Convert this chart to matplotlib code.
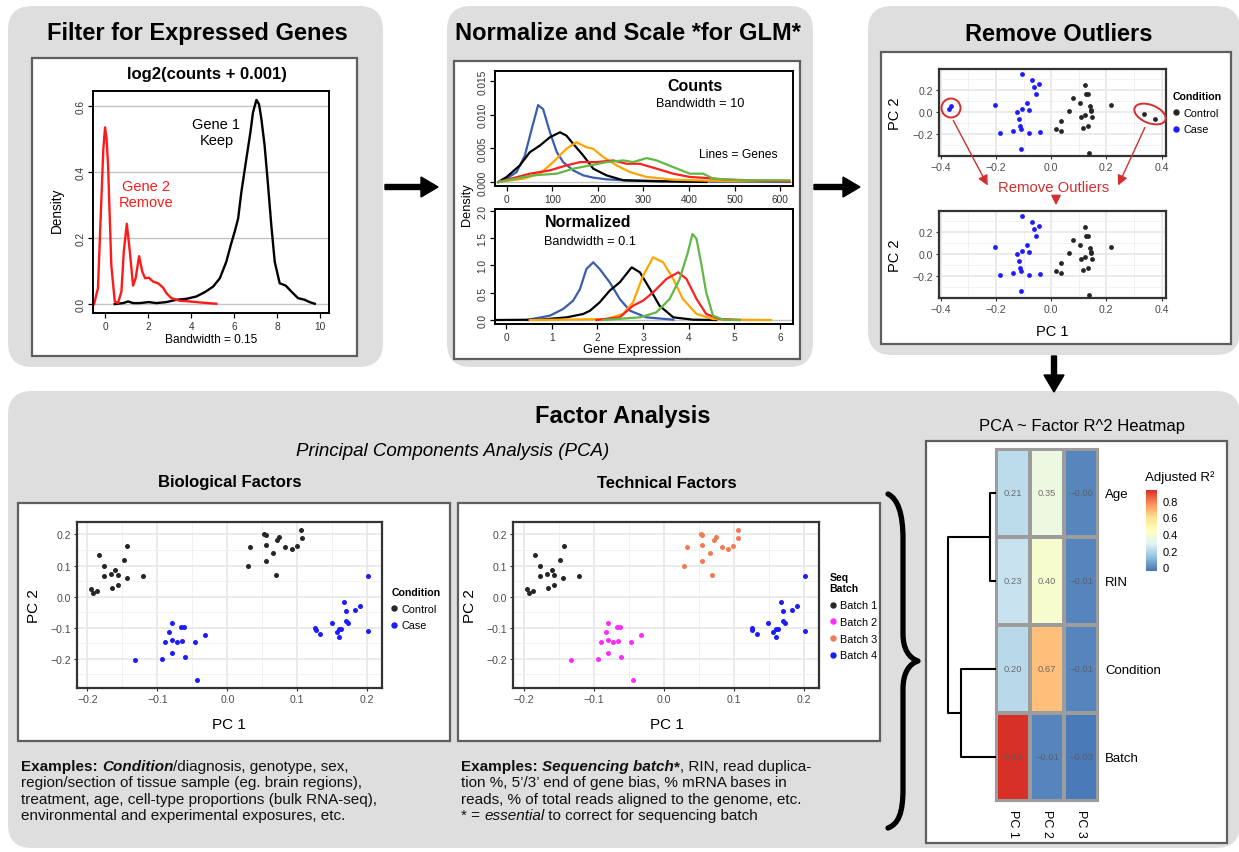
import matplotlib
matplotlib.use('Agg')
import numpy as np
import matplotlib.pyplot as plt
from matplotlib.patches import FancyBboxPatch, Rectangle, FancyArrow, Ellipse, FancyArrowPatch, PathPatch
from matplotlib.path import Path
from matplotlib.colors import LinearSegmentedColormap
from matplotlib.lines import Line2D

plt.rcParams['font.family'] = ['Liberation Sans', 'DejaVu Sans']

W, H = 1239, 853
PANEL = '#dedede'
RED = '#d32f2f'

# ------------------------------------------------------------
# Datos: curvas de densidad
# ------------------------------------------------------------
gene2_x = [-0.51, -0.33, -0.17, -0.08, 0.0, 0.07, 0.14, 0.29, 0.45, 0.60, 0.76, 0.87, 1.01,
           1.15, 1.30, 1.42, 1.58, 1.73, 1.86, 2.03, 2.23, 2.46, 2.69, 2.85, 3.08, 3.47,
           3.93, 4.40, 5.17]
gene2_y = [0.0, 0.048, 0.319, 0.470, 0.535, 0.500, 0.419, 0.118, 0.008, 0.003, 0.038, 0.159,
           0.243, 0.159, 0.056, 0.078, 0.145, 0.098, 0.078, 0.080, 0.068, 0.063, 0.050, 0.033,
           0.018, 0.010, 0.008, 0.005, 0.001]
gene1_x = [0.45, 0.84, 1.07, 1.30, 1.61, 2.03, 2.38, 2.85, 3.31, 3.78, 4.24, 4.63, 5.02, 5.33,
           5.63, 5.84, 6.02, 6.18, 6.33, 6.56, 6.75, 6.87, 7.03, 7.15, 7.26, 7.41, 7.57, 7.72,
           7.88, 8.11, 8.39, 8.65, 8.96, 9.27, 9.50, 9.74]
gene1_y = [0.0, 0.003, 0.008, 0.003, 0.003, 0.006, 0.003, 0.006, 0.013, 0.016, 0.023, 0.036,
           0.053, 0.078, 0.128, 0.179, 0.219, 0.259, 0.339, 0.439, 0.520, 0.580, 0.618, 0.605,
           0.560, 0.480, 0.359, 0.239, 0.128, 0.063, 0.056, 0.038, 0.018, 0.013, 0.006, 0.001]

gene_colors = ['#3a5dae', 'black', '#ffa500', '#ff2020', '#62b845']

counts_x = [
    [-18, 0, 22, 40, 55, 69, 80, 95, 110, 124, 146, 168, 190, 219, 256, 292, 365, 438, 620],
    [-18, 0, 29, 51, 73, 95, 117, 131, 146, 168, 190, 219, 256, 329, 438],
    [-18, 37, 73, 102, 131, 153, 175, 190, 212, 241, 270, 307, 365, 438, 511, 620],
    [-18, 51, 95, 131, 161, 197, 234, 263, 292, 329, 365, 402, 438, 475, 548, 620],
    [-18, 58, 110, 146, 183, 219, 256, 277, 307, 329, 365, 402, 431, 453, 511, 620],
]
counts_y = [
    [0, 0.00049, 0.00148, 0.00393, 0.00787, 0.01141, 0.01082, 0.00738, 0.00443, 0.00295,
     0.00172, 0.00098, 0.00064, 0.00039, 0.00025, 0.0002, 0.0001, 0.00005, 0],
    [0, 0.00074, 0.00246, 0.00443, 0.00541, 0.00664, 0.00738, 0.00689, 0.00566, 0.00393,
     0.00197, 0.00098, 0.00025, 0.0001, 0],
    [0, 0.00049, 0.00123, 0.00295, 0.00492, 0.0059, 0.00516, 0.00492, 0.00369, 0.00246,
     0.00148, 0.00074, 0.00034, 0.0002, 0.0001, 0.00015],
    [0, 0.00123, 0.00172, 0.00246, 0.00295, 0.00295, 0.0032, 0.0027, 0.0027, 0.00197,
     0.00123, 0.00074, 0.00059, 0.00039, 0.0002, 0.0001],
    [0, 0.00098, 0.00123, 0.00197, 0.00246, 0.00295, 0.0032, 0.00295, 0.00354, 0.0032,
     0.00221, 0.00123, 0.00123, 0.00049, 0.00025, 0.00025],
]

norm_x = [
    [0.45, 0.96, 1.25, 1.47, 1.62, 1.76, 1.91, 2.05, 2.27, 2.49, 2.71, 3.07, 3.66],
    [-0.24, 0.74, 1.33, 1.69, 1.84, 2.05, 2.27, 2.49, 2.75, 2.93, 3.15, 3.36, 3.66, 4.09, 4.60],
    [0.52, 2.20, 2.56, 2.78, 3.00, 3.22, 3.44, 3.66, 3.87, 4.17, 4.53, 5.11, 5.80],
    [1.98, 2.49, 2.78, 3.00, 3.22, 3.51, 3.77, 3.95, 4.17, 4.38, 4.68, 5.11],
    [2.13, 2.93, 3.29, 3.58, 3.80, 3.98, 4.08, 4.17, 4.28, 4.38, 4.53, 4.75, 5.11],
]
norm_y = [
    [0, 0.079, 0.201, 0.354, 0.567, 0.933, 1.055, 0.933, 0.689, 0.384, 0.171, 0.049, 0.006],
    [0, 0.006, 0.049, 0.110, 0.171, 0.323, 0.537, 0.689, 0.963, 0.872, 0.567, 0.262, 0.049,
     0.006, 0],
    [0, 0.018, 0.110, 0.323, 0.811, 1.146, 1.055, 0.750, 0.384, 0.110, 0.018, 0.006, 0],
    [0, 0.049, 0.262, 0.354, 0.506, 0.750, 0.872, 0.750, 0.384, 0.110, 0.018, 0],
    [0, 0.049, 0.140, 0.384, 0.750, 1.238, 1.573, 1.482, 0.994, 0.506, 0.079, 0.006, 0],
]

# ------------------------------------------------------------
# Datos: PCA para quitar outliers
# ------------------------------------------------------------
out_case_x = [-0.106, -0.071, -0.045, -0.062, -0.053, -0.204, -0.089, -0.104, -0.123, -0.079,
              -0.118, -0.114, -0.109, -0.137, -0.185, -0.081, -0.041, -0.108]
out_case_y = [0.344, 0.287, 0.251, 0.221, 0.161, 0.065, 0.083, 0.023, 0.002, 0.017, -0.059,
              -0.125, -0.149, -0.167, -0.191, -0.191, -0.176, -0.329]
out_ctrl_x = [0.121, 0.128, 0.135, 0.080, 0.103, 0.141, 0.144, 0.064, 0.146, 0.121, 0.108,
              0.147, 0.036, 0.018, 0.035, 0.114, 0.132, 0.138, 0.216]
out_ctrl_y = [0.245, 0.161, 0.161, 0.125, 0.083, 0.053, 0.020, 0.005, 0.008, -0.023, -0.041,
              -0.044, -0.077, -0.155, -0.167, -0.140, -0.128, -0.365, 0.062]
outlier_case_x = [-0.370, -0.364]
outlier_case_y = [0.026, 0.050]
outlier_ctrl_x = [0.337, 0.377]
outlier_ctrl_y = [-0.020, -0.059]

# ------------------------------------------------------------
# Datos: PCA del análisis factorial (mismos puntos, dos coloreados)
# ------------------------------------------------------------
pc1 = [-0.195, -0.192, -0.186, -0.184, -0.177, -0.176, -0.165, -0.166, -0.160, -0.157, -0.157,
       -0.143, -0.144, -0.148, -0.121,
       0.029, 0.033, 0.053, 0.055, 0.055, 0.055, 0.065, 0.069, 0.071, 0.074, 0.083, 0.092,
       0.099, 0.105, 0.106,
       -0.132, -0.094, -0.089, -0.083, -0.079, -0.079, -0.079, -0.072, -0.067, -0.065, -0.062,
       -0.061, -0.047, -0.044, -0.032,
       0.125, 0.126, 0.133, 0.149, 0.156, 0.160, 0.160, 0.162, 0.167, 0.169, 0.169, 0.172,
       0.183, 0.190, 0.201, 0.201]
pc2 = [0.023, 0.012, 0.017, 0.133, 0.098, 0.065, 0.029, 0.074, 0.085, 0.036, 0.071, 0.163,
       0.060, 0.118, 0.065,
       0.097, 0.159, 0.201, 0.197, 0.165, 0.116, 0.140, 0.068, 0.183, 0.191, 0.158, 0.153,
       0.164, 0.213, 0.187,
       -0.205, -0.202, -0.146, -0.115, -0.086, -0.140, -0.181, -0.147, -0.099, -0.142, -0.098,
       -0.193, -0.146, -0.268, -0.124,
       -0.101, -0.106, -0.120, -0.085, -0.114, -0.105, -0.129, -0.103, -0.017, -0.046, -0.078,
       -0.084, -0.042, -0.030, 0.065, -0.110]
condition = ['Control'] * 30 + ['Case'] * 31
batch = ['Batch 1'] * 15 + ['Batch 3'] * 15 + ['Batch 2'] * 15 + ['Batch 4'] * 16

cond_levels = ['Control', 'Case']
cond_colors = ['#262626', '#1c1cff']
batch_levels = ['Batch 1', 'Batch 2', 'Batch 3', 'Batch 4']
batch_colors = ['#262626', '#ff2bff', '#f47a54', '#1c1cff']

# ------------------------------------------------------------
# Datos: heatmap R^2
# ------------------------------------------------------------
factors = ['Age', 'RIN', 'Condition', 'Batch']
pcs = ['PC 1', 'PC 2', 'PC 3']
r2 = [[0.21, 0.35, -0.004],
      [0.23, 0.40, -0.01],
      [0.20, 0.67, -0.01],
      [0.93, -0.01, -0.03]]
# (hijo a, hijo b, altura) ; hojas 0..3
merges = [(0, 1, 0.107), (2, 3, 0.625), (4, 5, 0.857)]

bio_lines = [
    [('Examples:', 'b'), (' ', ''), ('Condition', 'bi'), ('/diagnosis, genotype, sex,', '')],
    [('region/section of tissue sample (eg. brain regions),', '')],
    [('treatment, age, cell-type proportions (bulk RNA-seq),', '')],
    [('environmental and experimental exposures, etc.', '')],
]
tech_lines = [
    [('Examples:', 'b'), (' ', ''), ('Sequencing batch', 'bi'), ('*', 'b'), (', RIN, read duplica-', '')],
    [('tion %, 5\u2019/3\u2019 end of gene bias, % mRNA bases in', '')],
    [('reads, % of total reads aligned to the genome, etc.', '')],
    [('* = ', ''), ('essential', 'i'), (' to correct for sequencing batch', '')],
]

# ============================================================
# Figura
# ============================================================
fig = plt.figure(figsize=(W / 100, H / 100), dpi=100)
bg = fig.add_axes([0, 0, 1, 1])
bg.set_xlim(0, W)
bg.set_ylim(H, 0)
bg.axis('off')


def px_ax(x0, y0, x1, y1, **kw):
    return fig.add_axes([x0 / W, 1 - y1 / H, (x1 - x0) / W, (y1 - y0) / H], **kw)


def gray_panel(x0, y0, x1, y1):
    bg.add_patch(FancyBboxPatch((x0, y0), x1 - x0, y1 - y0,
                                boxstyle='round,pad=0,rounding_size=24', fc=PANEL, ec='none'))


def white_box(x0, y0, x1, y1):
    bg.add_patch(Rectangle((x0, y0), x1 - x0, y1 - y0, fc='white', ec='#5e5e5e', lw=1.6))


def base_r(ax, xt, yt, ygrid):
    for s in ax.spines.values():
        s.set_linewidth(1.4)
        s.set_color('black')
    ax.set_xticks(xt)
    ax.set_yticks(yt)
    ax.tick_params(direction='out', length=3.5, width=0.9, labelsize=7.3,
                   labelcolor='#333333', pad=2)
    ax.tick_params(axis='y', labelrotation=90)
    for lab in ax.get_yticklabels():
        lab.set_va('center')
    for v in ygrid:
        ax.axhline(v, color='#c4c4c4', lw=1, zorder=0)


def gg(ax, xlim, ylim, xt, yt, xm, ym):
    ax.set_xlim(xlim)
    ax.set_ylim(ylim)
    ax.set_xticks(xt)
    ax.set_yticks(yt)
    ax.set_xticks(xm, minor=True)
    ax.set_yticks(ym, minor=True)
    ax.grid(which='major', color='#e6e6e6', lw=1.1)
    ax.grid(which='minor', color='#f0f0f0', lw=0.6)
    ax.set_axisbelow(True)
    ax.tick_params(which='minor', length=0)
    ax.tick_params(which='major', length=2.5, width=0.8, color='#333333', labelsize=7.6,
                   labelcolor='#4d4d4d', pad=2)
    for s in ax.spines.values():
        s.set_linewidth(1.6)
        s.set_color('#333333')


def dot_legend(ax, labels, colors, title, anchor):
    handles = [Line2D([], [], marker='o', ls='none', ms=3.6, color=c, label=l)
               for l, c in zip(labels, colors)]
    leg = ax.legend(handles=handles, title=title, loc='upper left', bbox_to_anchor=anchor,
                    frameon=False, fontsize=7.8,
                    title_fontproperties={'weight': 'bold', 'size': 7.6},
                    handlelength=0.6, handletextpad=0.35, labelspacing=0.62, borderpad=0,
                    borderaxespad=0, alignment='left')
    leg._legend_box.sep = 5
    return leg


# ---------------- paneles grises y cajas blancas ----------------
gray_panel(8, 7, 383, 368)
gray_panel(447, 7, 813, 368)
gray_panel(868, 7, 1240, 356)
gray_panel(8, 392, 1240, 849)

white_box(32, 59, 357, 357)
white_box(454, 62, 800, 360)
white_box(881, 53, 1231, 345)
white_box(18, 504, 450, 742)
white_box(458, 504, 880, 742)
white_box(926, 442, 1227, 844)

# flechas negras
bg.add_patch(FancyArrow(385, 188, 53, 0, width=5, head_width=20, head_length=17,
                        length_includes_head=True, color='black'))
bg.add_patch(FancyArrow(814, 188, 46, 0, width=5, head_width=20, head_length=17,
                        length_includes_head=True, color='black'))
bg.add_patch(FancyArrow(1054, 357, 0, 36, width=5, head_width=20, head_length=17,
                        length_includes_head=True, color='black'))

# títulos
bg.text(197, 33, 'Filter for Expressed Genes', ha='center', va='center', fontsize=17, fontweight='bold')
bg.text(628, 33, 'Normalize and Scale *for GLM*', ha='center', va='center', fontsize=17, fontweight='bold')
bg.text(1059, 34, 'Remove Outliers', ha='center', va='center', fontsize=17, fontweight='bold')
bg.text(623, 417, 'Factor Analysis', ha='center', va='center', fontsize=17, fontweight='bold')
bg.text(453, 451, 'Principal Components Analysis (PCA)', ha='center', va='center',
        fontsize=13.5, fontstyle='italic')
bg.text(230, 483, 'Biological Factors', ha='center', va='center', fontsize=12, fontweight='bold')
bg.text(667, 483, 'Technical Factors', ha='center', va='center', fontsize=12, fontweight='bold')
bg.text(1082, 426, 'PCA ~ Factor R^2 Heatmap', ha='center', va='center', fontsize=12)

# ---------------- Panel 1: filtrado ----------------
ax1 = px_ax(93, 92, 329, 314)
ax1.plot(gene1_x, gene1_y, color='black', lw=1.7, solid_joinstyle='round')
ax1.plot(gene2_x, gene2_y, color='#ff1a1a', lw=1.7, solid_joinstyle='round')
ax1.set_xlim(-0.56, 10.4)
ax1.set_ylim(-0.027, 0.645)
base_r(ax1, [0, 2, 4, 6, 8, 10], [0.0, 0.2, 0.4, 0.6], [0.0, 0.2, 0.4, 0.6])
ax1.text(5.17, 0.52, 'Gene 1\nKeep', ha='center', va='center', fontsize=10.5, linespacing=1.15)
ax1.text(1.92, 0.334, 'Gene 2\nRemove', ha='center', va='center', fontsize=10.5,
         color='#ff1a1a', linespacing=1.15)
bg.text(207, 74, 'log2(counts + 0.001)', ha='center', va='center', fontsize=12, fontweight='bold')
bg.text(211, 340, 'Bandwidth = 0.15', ha='center', va='center', fontsize=8.6)
bg.text(57, 210, 'Density', ha='center', va='center', fontsize=9.8, rotation=90)

# ---------------- Panel 2: normalización ----------------
ax2a = px_ax(495, 72, 793, 187)
for xs, ys, c in zip(counts_x, counts_y, gene_colors):
    ax2a.plot(xs, ys, color=c, lw=1.6, solid_joinstyle='round')
ax2a.set_xlim(-25.5, 628)
ax2a.set_ylim(-0.0006, 0.01648)
base_r(ax2a, [0, 100, 200, 300, 400, 500, 600], [0, 0.005, 0.010, 0.015], [0])
ax2a.set_yticklabels(['0.000', '0.005', '0.010', '0.015'], rotation=90, va='center')
ax2a.text(412, 0.0144, 'Counts', ha='center', va='center', fontsize=11.5, fontweight='bold')
ax2a.text(425, 0.0118, 'Bandwidth = 10', ha='center', va='center', fontsize=9.2)
ax2a.text(507, 0.0041, 'Lines = Genes', ha='center', va='center', fontsize=8.7)

ax2b = px_ax(495, 210, 793, 325)
for xs, ys, c in zip(norm_x, norm_y, gene_colors):
    ax2b.plot(xs, ys, color=c, lw=1.6, solid_joinstyle='round')
ax2b.set_xlim(-0.24, 6.28)
ax2b.set_ylim(-0.073, 2.03)
base_r(ax2b, [0, 1, 2, 3, 4, 5, 6], [0, 0.5, 1.0, 1.5, 2.0], [0])
ax2b.set_yticklabels(['0.0', '0.5', '1.0', '1.5', '2.0'], rotation=90, va='center')
ax2b.text(1.80, 1.80, 'Normalized', ha='center', va='center', fontsize=11.5, fontweight='bold')
ax2b.text(1.84, 1.45, 'Bandwidth = 0.1', ha='center', va='center', fontsize=9.2)
bg.text(467, 205, 'Density', ha='center', va='center', fontsize=9.2, rotation=90)
bg.text(632, 350, 'Gene Expression', ha='center', va='center', fontsize=9.2)

# ---------------- Panel 3: outliers ----------------
xlim3, ylim3 = (-0.406, 0.416), (-0.396, 0.386)
for k, (y0, y1) in enumerate([(70, 157), (212, 299)]):
    ax = px_ax(939, y0, 1166, y1)
    gg(ax, xlim3, ylim3, [-0.4, -0.2, 0.0, 0.2, 0.4], [-0.2, 0.0, 0.2],
       [-0.3, -0.1, 0.1, 0.3], [-0.3, -0.1, 0.1, 0.3])
    ax.scatter(out_ctrl_x, out_ctrl_y, s=12, color=cond_colors[0], lw=0, zorder=3)
    ax.scatter(out_case_x, out_case_y, s=12, color=cond_colors[1], lw=0, zorder=3)
    if k == 0:
        ax.scatter(outlier_ctrl_x, outlier_ctrl_y, s=12, color=cond_colors[0], lw=0, zorder=3)
        ax.scatter(outlier_case_x, outlier_case_y, s=12, color=cond_colors[1], lw=0, zorder=3)
        dot_legend(ax, cond_levels, cond_colors, 'Condition', (1.03, 0.75))
    bg.text(895, (y0 + y1) / 2, 'PC 2', ha='center', va='center', fontsize=10.5, rotation=90)
bg.text(1052, 332, 'PC 1', ha='center', va='center', fontsize=10.5)

# ---------------- Factor analysis scatters ----------------
xlimf, ylimf = (-0.215, 0.221), (-0.294, 0.240)
pc1 = np.array(pc1)
pc2 = np.array(pc2)
for (x0, x1), groups, levels, colors, title, lx in [
        ((77, 382), condition, cond_levels, cond_colors, 'Condition', 229),
        ((513, 819), batch, batch_levels, batch_colors, 'Seq\nBatch', 667)]:
    ax = px_ax(x0, 523, x1, 689)
    gg(ax, xlimf, ylimf, [-0.2, -0.1, 0.0, 0.1, 0.2], [-0.2, -0.1, 0.0, 0.1, 0.2],
       [-0.15, -0.05, 0.05, 0.15], [-0.25, -0.15, -0.05, 0.05, 0.15])
    g = np.array(groups)
    for lev, c in zip(levels, colors):
        m = g == lev
        ax.scatter(pc1[m], pc2[m], s=13, color=c, lw=0, zorder=3)
    anchor = (1.03, 0.61) if title == 'Condition' else (1.035, 0.70)
    dot_legend(ax, levels, colors, title, anchor)
    bg.text(lx, 725, 'PC 1', ha='center', va='center', fontsize=11)
    bg.text(x0 - 43, 606, 'PC 2', ha='center', va='center', fontsize=11, rotation=90)

# ---------------- Heatmap ----------------
cmap = LinearSegmentedColormap.from_list(
    'rdylbu', ['#4575b4', '#91bfdb', '#e0f3f8', '#ffffbf', '#fee090', '#fc8d59', '#d73027'])
hm = px_ax(996, 450, 1098, 802)
mesh = hm.pcolormesh(np.array(r2), cmap=cmap, vmin=-0.045, vmax=0.93,
                     edgecolors='#9c9c9c', linewidth=1.5)
hm.set_xlim(0, 3)
hm.set_ylim(4, 0)
for i, row in enumerate(r2):
    for j, v in enumerate(row):
        hm.text(j + 0.5, i + 0.5, f'{v:.2f}'.replace('-', '\u2212'), ha='center', va='center',
                fontsize=6.8, color='#5a5a5a', alpha=0.85)
hm.yaxis.tick_right()
hm.set_yticks([i + 0.5 for i in range(len(factors))])
hm.set_yticklabels(factors)
hm.set_xticks([j + 0.5 for j in range(len(pcs))])
hm.set_xticklabels(pcs, rotation=-90, va='top')
hm.tick_params(length=0, labelsize=9.5, pad=5)
hm.tick_params(axis='x', labelsize=9, pad=6)
for s in hm.spines.values():
    s.set_color('#9c9c9c')
    s.set_linewidth(1.5)

cax = px_ax(1146, 491, 1157, 572)
cb = fig.colorbar(mesh, cax=cax)
cb.set_ticks([0, 0.2, 0.4, 0.6, 0.8])
cb.set_ticklabels(['0', '0.2', '0.4', '0.6', '0.8'])
cb.outline.set_visible(False)
cax.tick_params(length=0, labelsize=8, pad=4)
bg.text(1145, 478, 'Adjusted R\u00b2', ha='left', va='center', fontsize=9.5)

# dendrograma
dend = px_ax(940, 450, 996, 802)
dend.set_xlim(1, 0)
dend.set_ylim(4, 0)
dend.axis('off')
pos = {i: (0.0, i + 0.5) for i in range(len(factors))}
for k, (a, b, h) in enumerate(merges):
    ha_, ya = pos[a]
    hb, yb = pos[b]
    dend.plot([ha_, h, h, hb], [ya, ya, yb, yb], color='black', lw=1.5,
              solid_capstyle='butt', clip_on=False)
    pos[len(factors) + k] = (h, (ya + yb) / 2)

# llave
brace = Path([(888, 495), (898, 500), (903, 515), (903, 540),
              (903, 635), (903, 650), (909, 659), (918, 662),
              (909, 665), (903, 674), (903, 690),
              (903, 790), (903, 815), (898, 825), (888, 829)],
             [Path.MOVETO, Path.CURVE4, Path.CURVE4, Path.CURVE4,
              Path.LINETO, Path.CURVE4, Path.CURVE4, Path.CURVE4,
              Path.CURVE4, Path.CURVE4, Path.CURVE4,
              Path.LINETO, Path.CURVE4, Path.CURVE4, Path.CURVE4])
bg.add_patch(PathPatch(brace, fc='none', ec='black', lw=3.8, capstyle='round', joinstyle='round'))

# ---------------- anotaciones rojas (capa superior) ----------------
ov = fig.add_axes([0, 0, 1, 1], zorder=10)
ov.set_xlim(0, W)
ov.set_ylim(H, 0)
ov.axis('off')
ov.patch.set_alpha(0)
ov.add_patch(Ellipse((951, 109), 19, 19, fc='none', ec=RED, lw=1.4))
ov.add_patch(Ellipse((1150, 115), 33, 18, angle=22, fc='none', ec=RED, lw=1.4))
for p0, p1 in [((952, 119), (989, 189)), ((1146, 126), (1117, 189)), ((1056, 196), (1056, 209))]:
    ov.add_patch(FancyArrowPatch(p0, p1, arrowstyle='-|>,head_length=3,head_width=1.5',
                                 mutation_scale=2, color=RED, lw=1))
ov.text(1054, 188, 'Remove Outliers', ha='center', va='center', fontsize=10.7, color=RED)

# ---------------- texto inferior con estilos mezclados ----------------
renderer = fig.canvas.get_renderer()


def style_kw(st, size):
    return dict(fontsize=size, fontweight='bold' if 'b' in st else 'normal',
                fontstyle='italic' if 'i' in st else 'normal')


def text_width(s, kw):
    t = bg.text(0, 0, '|' + s + '|', **kw)
    w = t.get_window_extent(renderer).width
    t.set_text('||')
    w -= t.get_window_extent(renderer).width
    t.remove()
    return w


def rich_block(x, baselines, lines, size=11):
    for y, parts in zip(baselines, lines):
        cx = x
        for s, st in parts:
            kw = style_kw(st, size)
            bg.text(cx, y, s, ha='left', va='baseline', color='#111111', **kw)
            cx += text_width(s, kw)


rich_block(21, [771, 787.5, 804, 820.5], bio_lines)
rich_block(461, [771, 787.5, 804, 820.5], tech_lines)

fig.savefig('out.png', dpi=100)
